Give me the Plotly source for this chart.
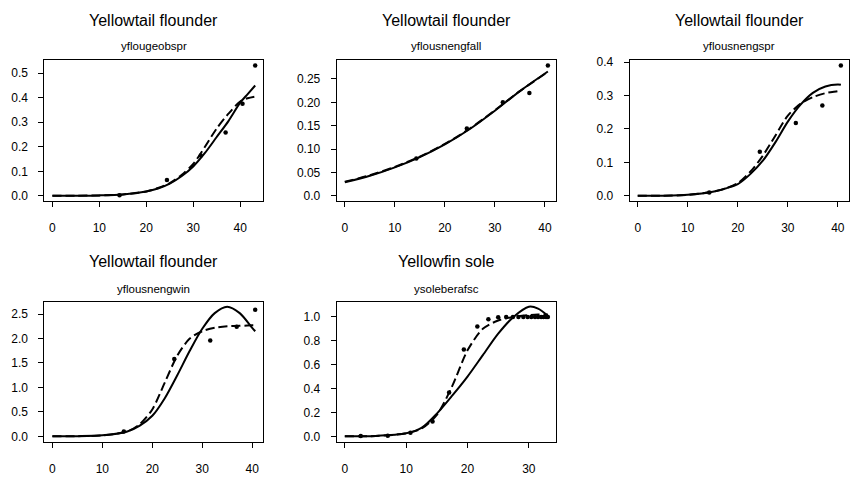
import plotly.graph_objects as go

W, H = 850, 478

# ---------------- data ----------------
titles = ["Yellowtail flounder", "Yellowtail flounder", "Yellowtail flounder",
          "Yellowtail flounder", "Yellowfin sole"]
subtitles = ["yflougeobspr", "yflousnengfall", "yflousnengspr",
             "yflousnengwin", "ysoleberafsc"]

p1_pts_x = [14.3, 24.4, 31.6, 36.9, 40.5, 43.2]
p1_pts_y = [0.003, 0.065, 0.165, 0.258, 0.376, 0.532]
p1_curve_x = [0, 5, 10, 15, 20, 22.5, 25, 27.5, 30, 32.5, 35, 37.5, 40, 41.6, 43.2]
p1_solid = [0, 0.0005, 0.002, 0.006, 0.018, 0.03, 0.05, 0.08, 0.12, 0.175, 0.24, 0.305, 0.38, 0.415, 0.45]
p1_dashed = [0, 0.0005, 0.002, 0.006, 0.018, 0.032, 0.052, 0.085, 0.13, 0.2, 0.275, 0.335, 0.385, 0.398, 0.405]

p2_pts_x = [14.3, 24.4, 31.6, 36.9, 40.6]
p2_pts_y = [0.080, 0.144, 0.200, 0.220, 0.279]
p2_curve_x = [0, 5, 10, 15, 20, 25, 30, 35, 40.6]
p2_solid = [0.029, 0.043, 0.061, 0.083, 0.110, 0.143, 0.182, 0.224, 0.266]
p2_dashed = [0.030, 0.044, 0.062, 0.084, 0.111, 0.144, 0.183, 0.224, 0.265]

p3_pts_x = [14.3, 24.4, 31.6, 36.9, 40.6]
p3_pts_y = [0.010, 0.132, 0.218, 0.270, 0.390]
p3_curve_x = [0, 5, 10, 15, 17.5, 20, 22.5, 25, 27.5, 30, 32.5, 35, 37.5, 40, 40.6]
p3_solid = [0, 0.0005, 0.003, 0.012, 0.022, 0.035, 0.065, 0.105, 0.16, 0.222, 0.272, 0.308, 0.327, 0.333, 0.332]
p3_dashed = [0, 0.0005, 0.003, 0.012, 0.022, 0.038, 0.072, 0.12, 0.18, 0.24, 0.275, 0.295, 0.307, 0.313, 0.315]

p4_pts_x = [14.3, 24.4, 31.6, 36.9, 40.6]
p4_pts_y = [0.10, 1.58, 1.96, 2.24, 2.59]
p4_curve_x = [0, 5, 10, 15, 17.5, 20, 22.5, 25, 27.5, 30, 32.5, 35, 37.5, 40, 40.6]
p4_solid = [0, 0.003, 0.02, 0.10, 0.22, 0.42, 0.78, 1.25, 1.75, 2.20, 2.52, 2.65, 2.52, 2.22, 2.15]
p4_dashed = [0, 0.003, 0.02, 0.10, 0.25, 0.55, 1.10, 1.65, 2.00, 2.15, 2.22, 2.25, 2.26, 2.27, 2.27]

p5_pts_x = [2.6, 7.0, 10.7, 14.3, 17.0, 19.4, 21.6, 23.4, 25.0, 26.3, 27.4, 28.3,
            29.1, 29.8, 30.4, 31.0, 31.5, 32.0, 32.4, 32.8, 33.1]
p5_pts_y = [0.003, 0.005, 0.03, 0.124, 0.368, 0.727, 0.92, 0.98, 0.997, 1.0, 1.0, 1.0,
            1.0, 1.0, 1.0, 1.0, 1.0, 1.0, 1.0, 1.0, 1.0]
p5_curve_x = [0, 5, 10, 12.5, 15, 17.5, 20, 22.5, 25, 27.5, 30, 31.5, 33.1]
p5_solid = [0, 0.003, 0.025, 0.07, 0.19, 0.34, 0.50, 0.68, 0.86, 1.00, 1.085, 1.07, 1.01]
p5_dashed = [0, 0.003, 0.025, 0.065, 0.18, 0.42, 0.72, 0.90, 0.97, 1.00, 1.015, 1.02, 1.02]

x_ticks = [[0, 10, 20, 30, 40]] * 4 + [[0, 10, 20, 30]]
y_tickvals = [[0, 0.1, 0.2, 0.3, 0.4, 0.5],
              [0, 0.05, 0.10, 0.15, 0.20, 0.25],
              [0, 0.1, 0.2, 0.3, 0.4],
              [0, 0.5, 1.0, 1.5, 2.0, 2.5],
              [0, 0.2, 0.4, 0.6, 0.8, 1.0]]
y_ticktext = [["0.0", "0.1", "0.2", "0.3", "0.4", "0.5"],
              ["0.0", "0.05", "0.10", "0.15", "0.20", "0.25"],
              ["0.0", "0.1", "0.2", "0.3", "0.4"],
              ["0.0", "0.5", "1.0", "1.5", "2.0", "2.5"],
              ["0.0", "0.2", "0.4", "0.6", "0.8", "1.0"]]

panels = [
    (p1_pts_x, p1_pts_y, p1_curve_x, p1_solid, p1_dashed),
    (p2_pts_x, p2_pts_y, p2_curve_x, p2_solid, p2_dashed),
    (p3_pts_x, p3_pts_y, p3_curve_x, p3_solid, p3_dashed),
    (p4_pts_x, p4_pts_y, p4_curve_x, p4_solid, p4_dashed),
    (p5_pts_x, p5_pts_y, p5_curve_x, p5_solid, p5_dashed),
]

# ---------------- layout (pixel boxes) ----------------
boxes = [  # left, right, top, bottom in px
    (44.3, 263.3, 56, 199),
    (336.7, 556, 56, 199),
    (629.6, 849, 56, 199),
    (44.3, 263.3, 301, 443),
    (336.7, 556, 301, 443),
]
title_y = {56: (15.5, 41.5), 301: (260, 288.5)}

FONT = "Liberation Sans, Arial, sans-serif"
fig = go.Figure()
layout = dict(width=W, height=H, margin=dict(l=0, r=0, t=0, b=0),
              paper_bgcolor="white", plot_bgcolor="white", showlegend=False,
              font=dict(family=FONT, color="black", size=12))
annotations = []

for i, (px, py, cx, cs, cd) in enumerate(panels):
    n = i + 1
    xa = "x" if n == 1 else f"x{n}"
    ya = "y" if n == 1 else f"y{n}"
    fig.add_trace(go.Scatter(x=cx, y=cs, mode="lines", xaxis=xa, yaxis=ya,
                             line=dict(color="black", width=2, shape="spline", smoothing=0.8)))
    fig.add_trace(go.Scatter(x=cx, y=cd, mode="lines", xaxis=xa, yaxis=ya,
                             line=dict(color="black", width=2, dash="9px,4px", shape="spline", smoothing=0.8)))
    fig.add_trace(go.Scatter(x=px, y=py, mode="markers", xaxis=xa, yaxis=ya,
                             marker=dict(color="black", size=4.5)))
    xmax = max(max(px), max(cx))
    ymax = max(max(py), max(cs), max(cd))
    l, r, t, b = boxes[i]
    axis_common = dict(showline=True, linecolor="black", linewidth=1, mirror=True,
                       ticks="outside", ticklen=5, tickwidth=1, tickcolor="black",
                       showgrid=False, zeroline=False,
                       tickfont=dict(family=FONT, size=12, color="black"))
    layout["xaxis" if n == 1 else f"xaxis{n}"] = dict(
        domain=[l / W, r / W], anchor=ya,
        range=[-0.04 * xmax, 1.04 * xmax],
        tickmode="array", tickvals=x_ticks[i], ticktext=[str(v) for v in x_ticks[i]],
        ticklabelstandoff=11, **axis_common)
    layout["yaxis" if n == 1 else f"yaxis{n}"] = dict(
        domain=[1 - b / H, 1 - t / H], anchor=xa,
        range=[-0.04 * ymax, 1.04 * ymax],
        tickmode="array", tickvals=y_tickvals[i], ticktext=y_ticktext[i],
        ticklabelstandoff=8, **axis_common)
    ty, sy = title_y[t]
    cxp = (l + r) / 2 / W
    annotations.append(dict(text=titles[i], x=cxp, y=1 - ty / H, xref="paper", yref="paper",
                            xanchor="center", yanchor="middle", showarrow=False,
                            font=dict(family=FONT, size=16, color="black")))
    annotations.append(dict(text=subtitles[i], x=cxp, y=1 - sy / H, xref="paper", yref="paper",
                            xanchor="center", yanchor="middle", showarrow=False,
                            font=dict(family=FONT, size=11.5, color="black")))

layout["annotations"] = annotations
fig.update_layout(**layout)
fig.write_html("out.html")
